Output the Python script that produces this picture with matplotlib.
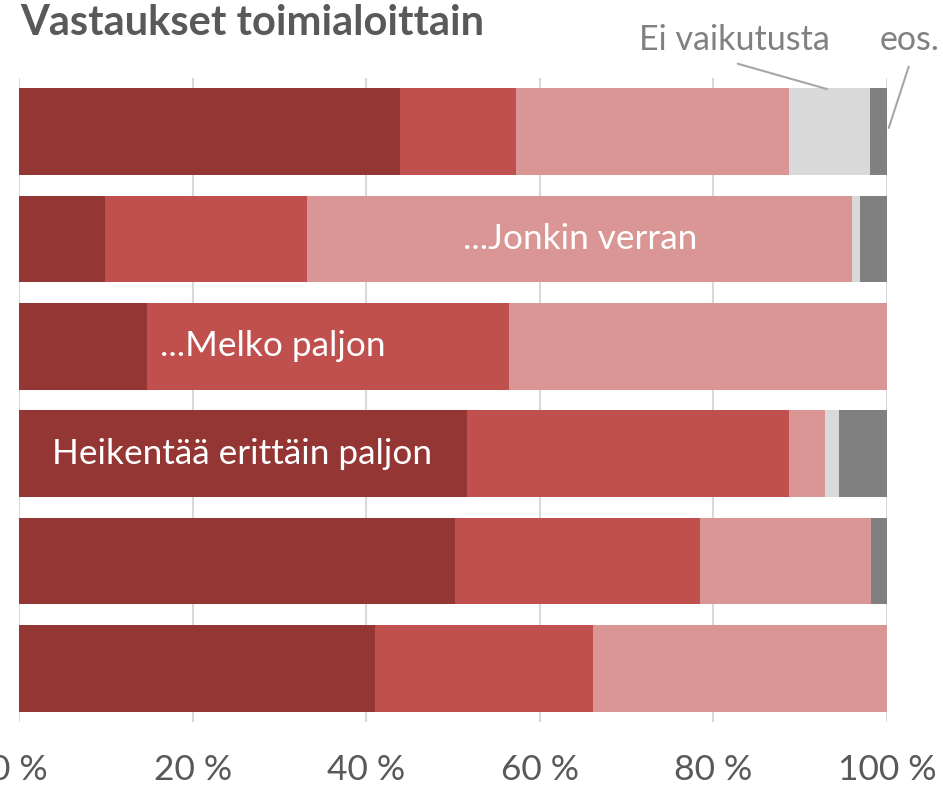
import matplotlib
matplotlib.use("Agg")
import matplotlib.pyplot as plt
import numpy as np

plt.rcParams['font.family'] = ['Lato', 'DejaVu Sans']

# shares (%) per row, top row first
rows = ["1", "2", "3", "4", "5", "6"]
erittain_paljon = [43.9, 9.9, 14.7, 51.6, 50.2, 41.0]
melko_paljon = [13.4, 23.3, 41.7, 37.1, 28.3, 25.1]
jonkin_verran = [31.4, 62.8, 43.6, 4.1, 19.7, 33.9]
ei_vaikutusta = [9.3, 0.9, 0.0, 1.7, 0.0, 0.0]
eos = [2.0, 3.1, 0.0, 5.5, 1.8, 0.0]

series = [erittain_paljon, melko_paljon, jonkin_verran, ei_vaikutusta, eos]
colors = ["#943634", "#C0504D", "#D99694", "#D9D9D9", "#808080"]

fig = plt.figure(figsize=(9.43, 7.88), dpi=100)
ax = fig.add_axes([19/943, 1 - 722/788, 868/943, 644/788])

y = np.arange(len(rows))
left = np.zeros(len(rows))
for vals, c in zip(series, colors):
    ax.barh(y, vals, left=left, height=0.81, color=c, zorder=2)
    left += np.array(vals)

ax.set_xlim(0, 100)
ax.set_ylim(5.5, -0.5)
ax.set_xticks([0, 20, 40, 60, 80, 100])
ax.set_xticklabels([f"{v} %" for v in [0, 20, 40, 60, 80, 100]])
ax.set_yticks([])
ax.grid(axis="x", color="#D9D9D9", linewidth=1.5, zorder=0)
ax.tick_params(axis="x", length=0, pad=23, labelsize=25.5, labelcolor="#595959")
for s in ax.spines.values():
    s.set_visible(False)

# labels inside the bars
ax.text(3.8, 3, "Heikentää erittäin paljon", color="white", fontsize=25.3,
        va="center", ha="left", zorder=3)
ax.text(16.2, 2, "...Melko paljon", color="white", fontsize=25.3,
        va="center", ha="left", zorder=3)
ax.text(51.2, 1, "...Jonkin verran", color="white", fontsize=25.3,
        va="center", ha="left", zorder=3)

# callouts above the chart
ax.text(93.4, -0.85, "Ei vaikutusta", color="#808080", fontsize=24.5,
        ha="right", va="center", clip_on=False)
ax.annotate("", xy=(93.4, -0.39), xytext=(82.5, -0.64),
            arrowprops=dict(arrowstyle="-", color="#A6A6A6", lw=1.5),
            annotation_clip=False)
ax.text(99.2, -0.85, "eos.", color="#808080", fontsize=24.5,
        ha="left", va="center", clip_on=False)
ax.annotate("", xy=(100.1, -0.01), xytext=(102.6, -0.63),
            arrowprops=dict(arrowstyle="-", color="#A6A6A6", lw=1.5),
            annotation_clip=False)

fig.text(20/943, 1 - 23/788, "Vastaukset toimialoittain", fontsize=30,
         fontweight="bold", color="#595959", ha="left", va="center")

fig.savefig("out.png", dpi=100)
